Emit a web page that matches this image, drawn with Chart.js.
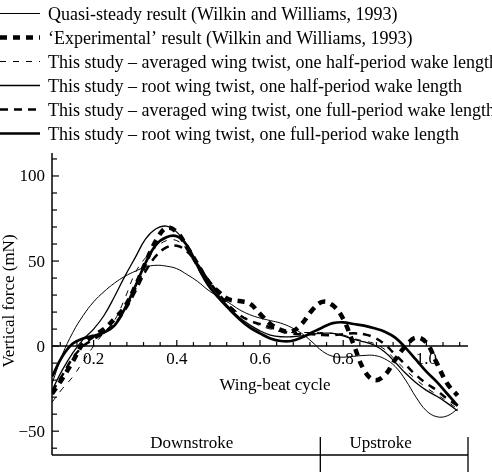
<!DOCTYPE html>
<html>
<head>
<meta charset="utf-8">
<title>Vertical force over the wing-beat cycle</title>
<script src="https://cdn.jsdelivr.net/npm/chart.js"></script>
<style>html,body{margin:0;padding:0;background:#fff}canvas{display:block}</style>
</head>
<body>
<canvas id="chart" width="492" height="472"></canvas>
<script>
// wing-beat cycle (x) shared by all curves
const cycle = [0.100,0.125,0.150,0.175,0.200,0.225,0.250,0.275,0.300,0.325,
               0.350,0.375,0.400,0.425,0.450,0.475,0.500,0.525,0.550,0.575,
               0.600,0.625,0.650,0.675,0.700,0.725,0.750,0.775,0.800,0.825,
               0.850,0.875,0.900,0.925,0.950,0.975,1.000,1.025,1.050,1.075];

// vertical force (mN)
const quasiSteady = [-22,-5,8,18,26,32,37,41,44,46.5,
                     47.5,47,45.5,42,38,33,29,25.5,21.5,18.5,
                     16.5,15,13.5,11,7.5,2.5,-3,-6,-6.5,-6,
                     -5.5,-5.5,-7.5,-12,-20,-30,-38,-41.5,-41,-37];
const experimental = [-28,-19,-9,1.5,6,10,16,23,35,49,
                      62,69.5,67,58,48,38,32,27.5,26.5,25,
                      19,13,9.5,8.5,13,21,26,24,16,1,
                      -14,-20,-17,-8,0,5,2,-10,-22,-29];
const avgTwistHalf = [-33,-25,-18,-9,0,8,15,28,43,52,
                      58,62,62,57,49,40,32,25,19,15,
                      12,10,8.5,8,8,8,8,7.5,6.5,4.5,
                      3,1.5,-2,-8,-14,-19.5,-24.5,-28.5,-32.5,-37];
const rootTwistHalf = [-26,-14,-4,4,10,18,29,41,52,63,
                       69,70.5,67,59,48,38,30,23,17,12.5,
                       9,6.5,5.5,5.5,6,7,7.5,7.5,6,4,
                       2.5,0.5,-3.5,-9.5,-16,-21.5,-26,-29.5,-33.5,-38];
const avgTwistFull = [-27,-17,-7,0,4,8,13,21,32,44,
                      53,58,59,55.5,48,39,31,24,18.5,15,
                      13,11,9,7.5,7,7,6.5,6.5,7,7.5,
                      7,5,1,-5,-11,-17,-22,-26,-31,-35];
const rootTwistFull = [-18,-6,1.5,4.5,6,8,12,22,35,49,
                       59.5,64,64.5,59,47,36,28.5,22,16,11,
                       7.5,4.5,3,3,5,8,11,13.5,14,13,
                       12,10.5,8.5,5,-1,-8,-15,-21,-28,-35];

const seriesLabels = [
  'Quasi-steady result (Wilkin and Williams, 1993)',
  '\u2018Experimental\u2019 result (Wilkin and Williams, 1993)',
  'This study \u2013 averaged wing twist, one half-period wake length',
  'This study \u2013 root wing twist, one half-period wake length',
  'This study \u2013 averaged wing twist, one full-period wake length',
  'This study \u2013 root wing twist, one full-period wake length'
];

const xTickValues = [0.2, 0.4, 0.6, 0.8, 1.0];
const xTickLabels = ['0.2', '0.4', '0.6', '0.8', '1.0'];
const yTickValues = [-50, 0, 50, 100];
const yTickLabels = ['\u221250', '0', '50', '100'];

const strokeBounds = [0.1, 0.745, 1.1];
const strokeLabels = ['Downstroke', 'Upstroke'];
const strokeLabelAt = [0.436, 0.89];

const serif = "'Liberation Serif', 'Times New Roman', serif";

function pts(arr) {
  return cycle.map((x, i) => ({x: x, y: arr[i]}));
}

const styles = [
  {borderWidth: 1, borderDash: []},
  {borderWidth: 4.5, borderDash: [7, 6]},
  {borderWidth: 1, borderDash: [6, 7]},
  {borderWidth: 1.3, borderDash: []},
  {borderWidth: 2.5, borderDash: [8, 6]},
  {borderWidth: 2.7, borderDash: []}
];
const values = [quasiSteady, experimental, avgTwistHalf, rootTwistHalf, avgTwistFull, rootTwistFull];

const datasets = values.map((v, i) => ({
  label: seriesLabels[i],
  data: pts(v),
  borderColor: '#000',
  backgroundColor: '#000',
  borderWidth: styles[i].borderWidth,
  borderDash: styles[i].borderDash,
  borderCapStyle: 'butt',
  pointRadius: 0,
  tension: 0.4,
  fill: false
}));

function seg(ctx, x1, y1, x2, y2) {
  ctx.beginPath();
  ctx.moveTo(x1, y1);
  ctx.lineTo(x2, y2);
  ctx.stroke();
}

const frame = {
  id: 'frame',
  afterDraw(chart) {
    const ctx = chart.ctx;
    const a = chart.chartArea;
    const x = chart.scales.x, y = chart.scales.y;
    const y0 = y.getPixelForValue(0);
    ctx.save();
    ctx.strokeStyle = '#000';
    ctx.fillStyle = '#000';
    ctx.setLineDash([]);
    ctx.lineWidth = 1.5;

    // axes
    seg(ctx, a.left, a.top, a.left, a.bottom);
    seg(ctx, a.left, y0, a.right, y0);

    // x ticks (inside, pointing up)
    ctx.lineWidth = 1.2;
    for (let i = 3; i <= 27; i++) {
      const px = x.getPixelForValue(i * 0.04);
      const major = i % 5 === 0;
      seg(ctx, px, y0, px, y0 - (major ? 6 : 4));
    }
    // y ticks (inside, pointing right)
    for (let i = -6; i <= 11; i++) {
      const py = y.getPixelForValue(i * 10);
      const major = i % 5 === 0;
      seg(ctx, a.left, py, a.left + (major ? 7 : 5), py);
    }

    ctx.font = '17px ' + serif;
    ctx.textAlign = 'center';
    ctx.textBaseline = 'top';
    xTickValues.forEach((v, i) => {
      ctx.fillText(xTickLabels[i], x.getPixelForValue(v), y0 + 5);
    });
    ctx.textAlign = 'right';
    ctx.textBaseline = 'middle';
    yTickValues.forEach((v, i) => {
      ctx.fillText(yTickLabels[i], a.left - 7, y.getPixelForValue(v) + 1);
    });

    // axis titles
    ctx.textAlign = 'center';
    ctx.fillText('Wing-beat cycle', 275, 386);
    ctx.save();
    ctx.translate(10, 301);
    ctx.rotate(-Math.PI / 2);
    ctx.font = '17px ' + serif;
    ctx.fillText('Vertical force (mN)', 0, 0);
    ctx.restore();

    // stroke bar
    ctx.lineWidth = 1.3;
    seg(ctx, a.left, a.bottom, x.getPixelForValue(strokeBounds[2]), a.bottom);
    for (let i = 1; i < strokeBounds.length; i++) {
      const px = x.getPixelForValue(strokeBounds[i]);
      seg(ctx, px, 437, px, 472);
    }
    ctx.textBaseline = 'middle';
    strokeLabels.forEach((t, i) => {
      ctx.fillText(t, x.getPixelForValue(strokeLabelAt[i]), 444);
    });

    // legend
    ctx.font = '18px ' + serif;
    ctx.textAlign = 'left';
    chart.data.datasets.forEach((ds, i) => {
      const ly = 13.5 + 24 * i;
      ctx.lineWidth = ds.borderWidth;
      ctx.setLineDash(ds.borderDash);
      seg(ctx, 0, ly, 40, ly);
      ctx.setLineDash([]);
      ctx.fillText(ds.label, 48, ly + 1.5);
    });
    ctx.restore();
  }
};

new Chart(document.getElementById('chart'), {
  type: 'line',
  data: {datasets: datasets},
  options: {
    responsive: false,
    animation: false,
    layout: {padding: {left: 52, right: 24, top: 153, bottom: 17}},
    plugins: {legend: {display: false}, tooltip: {enabled: false}},
    scales: {
      x: {type: 'linear', min: 0.1, max: 1.1, display: false},
      y: {min: -64, max: 113.5, display: false}
    }
  },
  plugins: [frame]
});
</script>
</body>
</html>
